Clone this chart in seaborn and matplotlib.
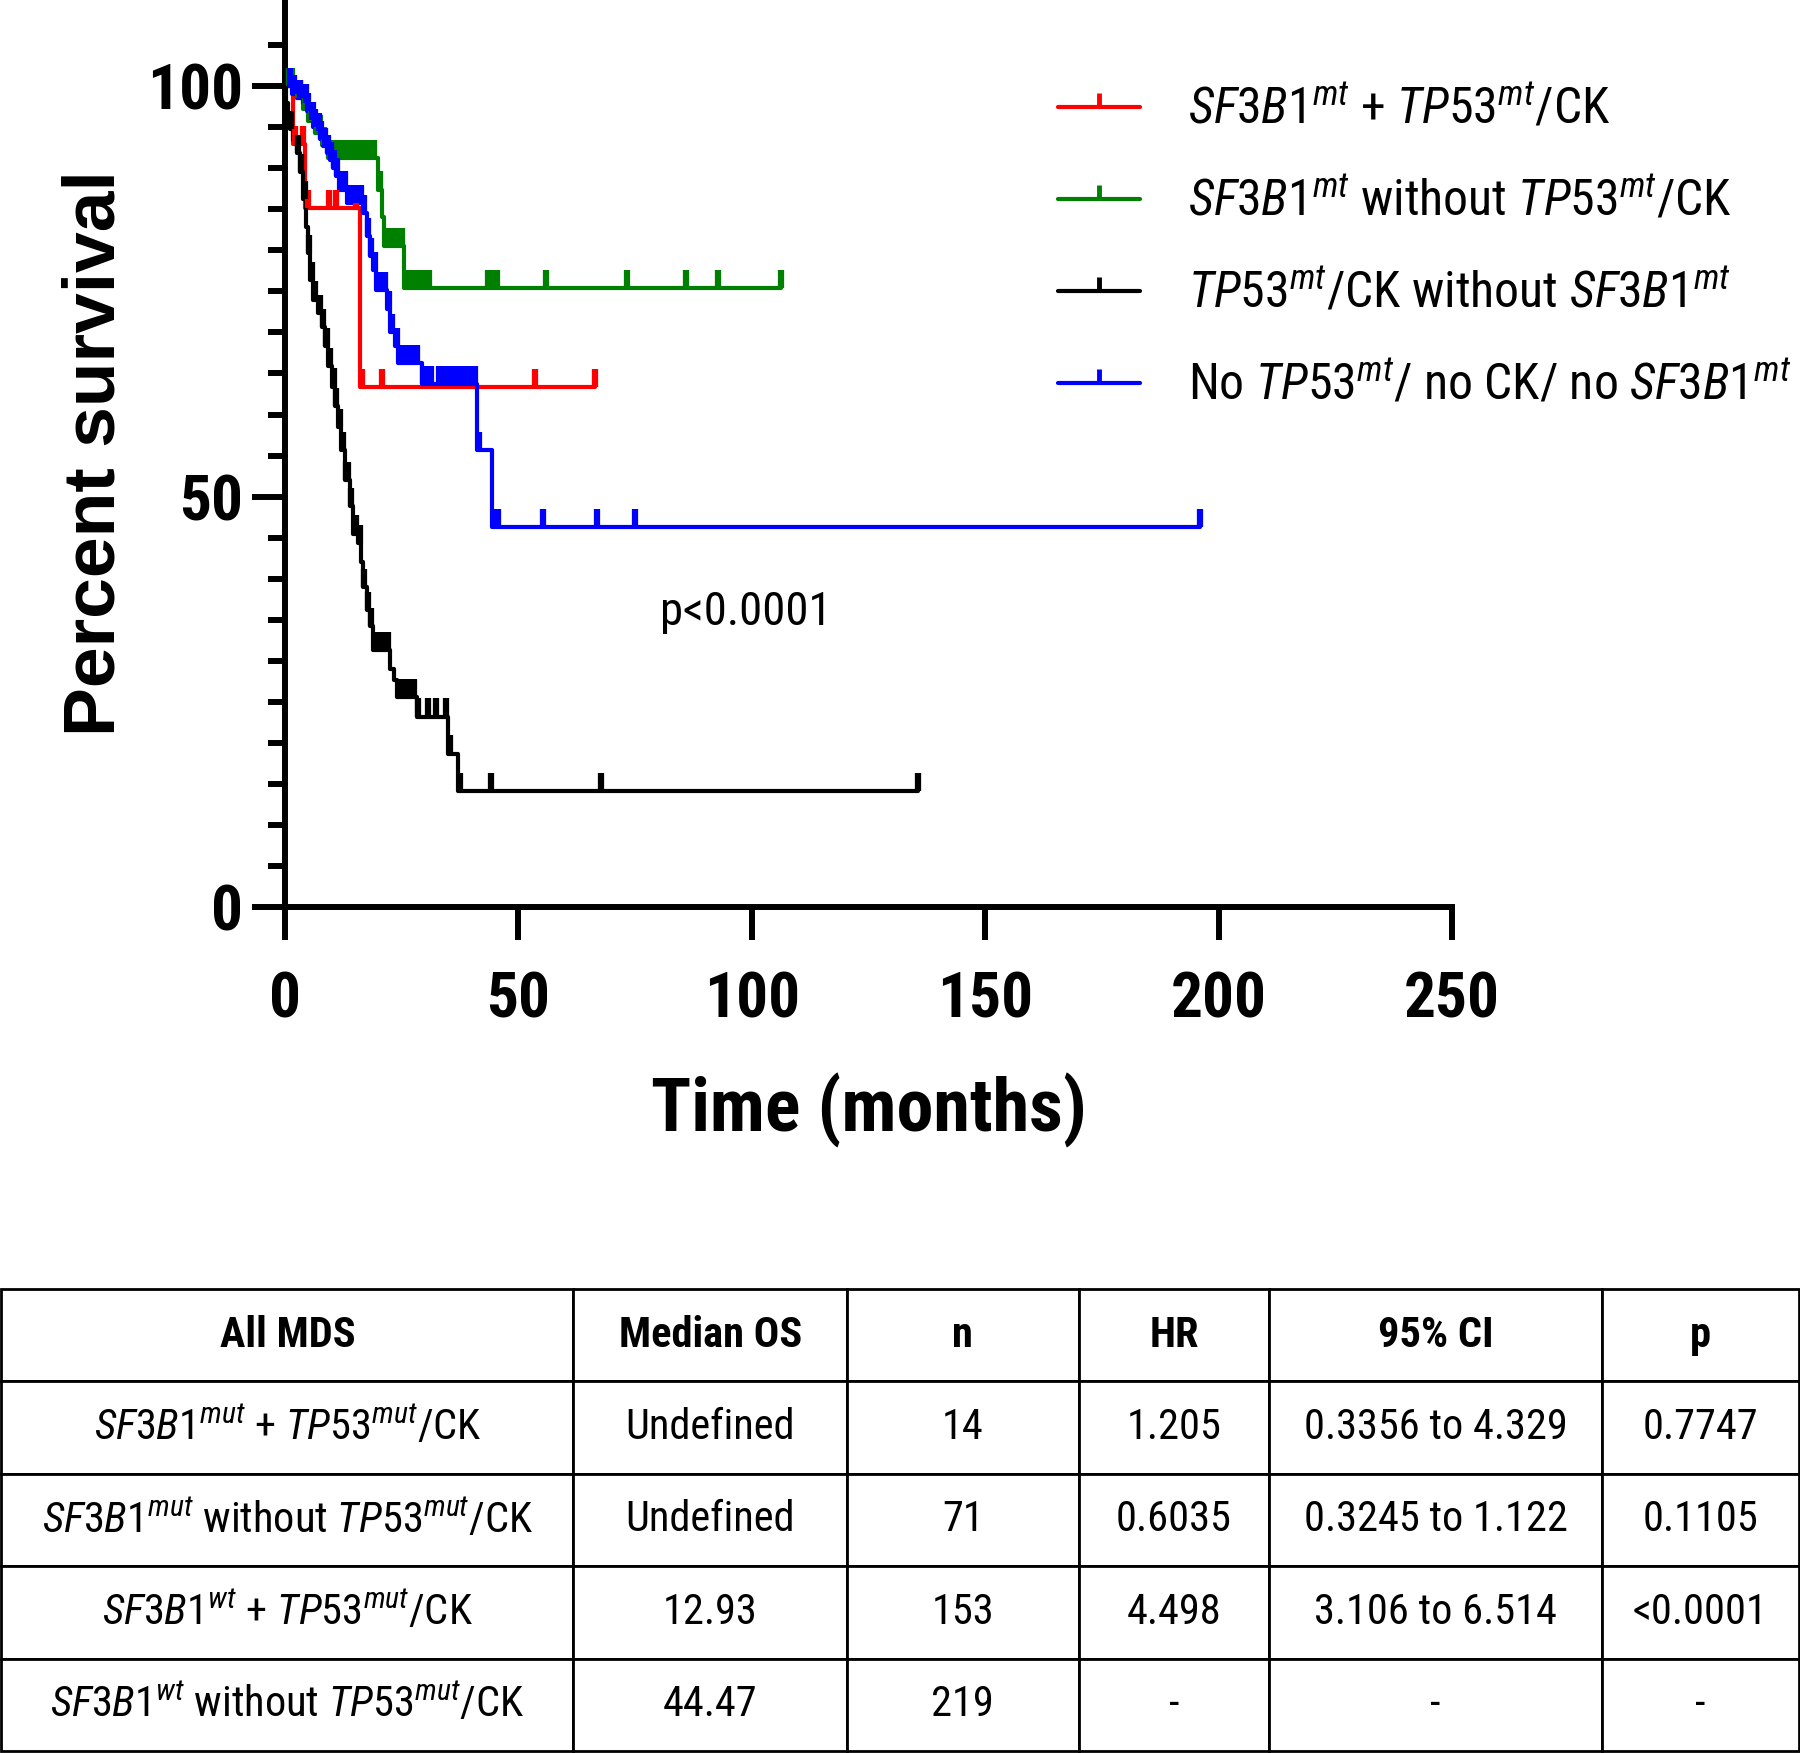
import numpy as np
import pandas as pd
import seaborn as sns
import matplotlib.pyplot as plt
from matplotlib.lines import Line2D
from matplotlib.ticker import FixedLocator
from matplotlib import font_manager

# -----------------------------
# Data (months, percent survival)
# -----------------------------
red_time = [0, 1.7, 4.3, 16.0, 66.5]
red_surv = [100, 92.9, 85.1, 63.3, 63.3]
red_cens = [0.8, 2.2, 3.8, 5.0, 9.5, 11.0, 15.2, 16.5, 20.8, 53.5, 66.5]

green_time = [0, 2.5, 3.9, 5.0, 6.4, 7.9, 9.2, 20.0, 20.8, 21.3, 25.5, 106.2]
green_surv = [100, 98.6, 97.2, 95.8, 94.3, 92.8, 91.2, 87.4, 84.1, 80.5, 75.4, 75.4]
green_cens = [0.8, 1.6, 2.8, 3.3, 4.3, 5.5, 6.8, 7.5, 8.4, 9.8, 10.6, 11.5, 12.5,
              13.3, 14.2, 15.0, 16.0, 17.0, 18.0, 19.0, 20.4, 21.8, 22.6, 23.4,
              24.2, 25.0, 26.0, 26.8, 27.6, 28.4, 29.2, 30.0, 30.8, 43.5, 44.5,
              45.5, 56.0, 73.3, 85.8, 92.7, 106.2]

black_time = [0, 0.3, 0.6, 1.0, 1.7, 2.5, 3.2, 3.9, 4.6, 5.0, 5.4, 6.0, 7.1, 7.9,
              8.6, 9.3, 10.0, 10.7, 11.4, 12.1, 12.9, 13.9, 14.6, 15.7, 16.3,
              16.8, 17.5, 18.2, 18.9, 22.5, 23.4, 24.0, 28.2, 35.0, 37.1, 135.7]
black_surv = [100, 98.0, 96.1, 94.8, 93.5, 91.9, 89.5, 86.2, 82.9, 79.7, 76.4,
              74.0, 72.4, 70.7, 68.3, 65.9, 63.4, 61.0, 58.5, 55.7, 52.0, 48.8,
              45.5, 44.3, 42.0, 39.0, 36.2, 34.2, 31.3, 29.0, 27.6, 25.6, 23.2,
              18.7, 14.1, 14.1]
black_cens = [1.2, 2.8, 3.5, 4.2, 5.2, 5.7, 6.5, 7.5, 8.2, 8.8, 9.0, 9.6, 10.4,
              11.0, 11.7, 12.5, 13.0, 13.5, 14.2, 15.0, 15.3, 16.0, 17.0, 17.8,
              18.5, 19.3, 20.2, 21.1, 22.0, 24.4, 25.2, 26.0, 26.9, 27.7, 28.6,
              30.6, 32.3, 34.5, 35.4, 37.4, 44.2, 67.6, 135.7]

blue_time = [0, 1.5, 2.5, 3.9, 4.8, 5.4, 6.1, 6.8, 7.5, 8.2, 9.0, 9.6, 10.3, 11.0,
             11.6, 13.3, 16.8, 17.5, 18.2, 18.9, 19.6, 21.8, 22.5, 23.5, 24.3,
             29.3, 41.1, 44.3, 196.0]
blue_surv = [100, 99.1, 98.6, 98.0, 97.0, 95.9, 95.0, 94.5, 93.6, 92.7, 91.8,
             91.0, 90.0, 89.0, 87.4, 85.8, 84.5, 81.7, 79.3, 77.6, 75.2, 72.8,
             70.0, 68.3, 66.3, 63.7, 55.7, 46.3, 46.3]
blue_cens = [1.0, 2.0, 3.2, 4.5, 5.0, 5.8, 6.0, 6.5, 7.2, 7.8, 8.6, 9.3, 9.8,
             10.6, 11.2, 12.0, 12.8, 13.8, 14.6, 15.4, 16.2, 17.0, 17.8, 18.5,
             19.2, 20.0, 20.8, 21.5, 22.2, 23.0, 24.0, 25.0, 25.8, 26.6, 27.4,
             28.2, 29.6, 30.4, 31.2, 33.0, 34.0, 35.0, 36.0, 37.0, 38.0, 39.0,
             40.0, 40.8, 41.6, 44.8, 45.6, 55.3, 66.9, 75.0, 196.0]

group_keys = ["red", "green", "black", "blue"]
group_colors = {"red": "#FF0000", "green": "#008000", "black": "#000000", "blue": "#0000FF"}
legend_labels = [
    r"$\mathit{SF3B1}^{mt}$ + $\mathit{TP53}^{mt}$/CK",
    r"$\mathit{SF3B1}^{mt}$ without $\mathit{TP53}^{mt}$/CK",
    r"$\mathit{TP53}^{mt}$/CK without $\mathit{SF3B1}^{mt}$",
    r"No $\mathit{TP53}^{mt}$/ no CK/ no $\mathit{SF3B1}^{mt}$",
]

table_header = ["All MDS", "Median OS", "n", "HR", "95% CI", "p"]
table_groups = [
    r"$\mathit{SF3B1}^{mut}$ + $\mathit{TP53}^{mut}$/CK",
    r"$\mathit{SF3B1}^{mut}$ without $\mathit{TP53}^{mut}$/CK",
    r"$\mathit{SF3B1}^{wt}$ + $\mathit{TP53}^{mut}$/CK",
    r"$\mathit{SF3B1}^{wt}$ without $\mathit{TP53}^{mut}$/CK",
]
median_os = ["Undefined", "Undefined", "12.93", "44.47"]
n_pat = ["14", "71", "153", "219"]
hazard = ["1.205", "0.6035", "4.498", "-"]
conf_int = ["0.3356 to 4.329", "0.3245 to 1.122", "3.106 to 6.514", "-"]
p_vals = ["0.7747", "0.1105", "<0.0001", "-"]

# -----------------------------
# Long tables for seaborn
# -----------------------------
series = {
    "red": (red_time, red_surv, red_cens),
    "green": (green_time, green_surv, green_cens),
    "black": (black_time, black_surv, black_cens),
    "blue": (blue_time, blue_surv, blue_cens),
}
curve_rows, cens_rows = [], []
for key, (t, s, c) in series.items():
    for ti, si in zip(t, s):
        curve_rows.append({"group": key, "time": ti, "surv": si})
    idx = np.searchsorted(t, c, side="right") - 1
    for ci, ii in zip(c, idx):
        cens_rows.append({"group": key, "time": ci, "surv": s[ii]})
curves = pd.DataFrame(curve_rows)
censored = pd.DataFrame(cens_rows)

# -----------------------------
# Style
# -----------------------------
sns.set_style("ticks")
fam_names = {f.name for f in font_manager.fontManager.ttflist}
NARROW = "Liberation Sans"
for cand in ["Liberation Sans Narrow", "Arial Narrow", "Roboto Condensed",
             "Open Sans Condensed", "Noto Sans Condensed", "DejaVu Sans Condensed"]:
    if cand in fam_names:
        NARROW = cand
        break
plt.rcParams["font.family"] = [NARROW, "DejaVu Sans"]
plt.rcParams["mathtext.fontset"] = "custom"
plt.rcParams["mathtext.rm"] = NARROW
plt.rcParams["mathtext.it"] = NARROW + ":italic"
plt.rcParams["mathtext.bf"] = NARROW + ":bold"
for k in ["text.color", "axes.labelcolor", "xtick.color", "ytick.color", "axes.edgecolor"]:
    plt.rcParams[k] = "black"

fig = plt.figure(figsize=(18, 17.53), dpi=100)
renderer = fig.canvas.get_renderer()


def fit_size(txt, target_px, **kw):
    # font size (pt) giving the text the width measured on the reference
    probe = fig.text(0, 0, txt, fontsize=40, **kw)
    w = probe.get_window_extent(renderer=renderer).width
    probe.remove()
    return 40 * target_px / w


def text_height(txt, size, **kw):
    probe = fig.text(0, 0, txt, fontsize=size, **kw)
    h = probe.get_window_extent(renderer=renderer).height
    probe.remove()
    return h


fs_tick = fit_size("250", 96, fontweight="bold")
fs_xlab = fit_size("Time (months)", 436, fontweight="bold")
fs_ylab = fit_size("Percent survival", 565, fontweight="bold",
                   family=["Liberation Sans", "DejaVu Sans"])
fs_p = fit_size("p<0.0001", 172)
fs_leg = fit_size(legend_labels[1], 543)
fs_tab = fit_size("Undefined", 170)

ax = fig.add_axes([0.15833, 0.48260, 0.64833, 0.51740])

sns.lineplot(data=curves, x="time", y="surv", hue="group", hue_order=group_keys,
             palette=group_colors, estimator=None, drawstyle="steps-post",
             linewidth=3, legend=False, ax=ax)
sns.scatterplot(data=censored, x="time", y="surv", hue="group", hue_order=group_keys,
                palette=group_colors, marker=2, s=170, linewidth=4.5,
                legend=False, ax=ax, zorder=3)

ax.set_xlim(0, 250)
ax.set_ylim(0, 110.5)
ax.set_xticks([0, 50, 100, 150, 200, 250])
ax.set_yticks([0, 50, 100])
ax.yaxis.set_minor_locator(FixedLocator([v for v in range(5, 110, 5) if v not in (50, 100)]))
sns.despine(ax=ax)
for sp in ["left", "bottom"]:
    ax.spines[sp].set_linewidth(4.3)
ax.tick_params(axis="both", which="major", length=24, width=4.3, labelsize=fs_tick)
ax.tick_params(axis="y", which="major", pad=6)
ax.tick_params(axis="x", which="major", pad=22)
ax.tick_params(axis="y", which="minor", length=12.5, width=4.3)
for lab in ax.get_xticklabels() + ax.get_yticklabels():
    lab.set_fontweight("bold")

ax.set_xlabel("Time (months)", fontsize=fs_xlab, fontweight="bold", va="center")
ax.xaxis.set_label_coords(0.5, -0.224)
ax.set_ylabel("Percent survival", fontsize=fs_ylab, fontweight="bold", va="center",
              family=["Liberation Sans", "DejaVu Sans"])
ax.yaxis.set_label_coords(-0.162, 0.5)

ax.text(80.4, 35.9, "p<0.0001", fontsize=fs_p, va="center", ha="left")

# legend: rows 91 px apart, first row line at y = 110 px from the top
leg_px = fs_leg * 100 / 72
leg_h = text_height(legend_labels[1], fs_leg)
handles = [Line2D([], [], color=group_colors[k], lw=3, marker=2, markersize=10,
                  markeredgewidth=3.5) for k in group_keys]
fig.legend(handles, legend_labels, loc="upper left",
           bbox_to_anchor=(0.588, 1 - (110 - leg_h / 2) / 1753),
           frameon=False, fontsize=fs_leg, handlelength=82 / leg_px,
           handletextpad=48 / leg_px, labelspacing=(92 - leg_h) / leg_px,
           borderpad=0, borderaxespad=0)

# -----------------------------
# Table
# -----------------------------
tax = fig.add_axes([0.0008, 0.0012, 0.9984, 0.2635])
tax.axis("off")
cell_text = [list(r) for r in zip(table_groups, median_os, n_pat, hazard, conf_int, p_vals)]
tbl = tax.table(cellText=cell_text, colLabels=table_header, cellLoc="center",
                colWidths=[0.3183, 0.1522, 0.1289, 0.1061, 0.185, 0.1095],
                bbox=[0, 0, 1, 1])
tbl.auto_set_font_size(False)
tbl.set_fontsize(fs_tab)
for (r, c), cell in tbl.get_celld().items():
    cell.set_linewidth(2)
    cell.set_edgecolor("black")
    if r == 0:
        cell.get_text().set_fontweight("bold")

plt.savefig("out.png", dpi=100)
plt.close()
